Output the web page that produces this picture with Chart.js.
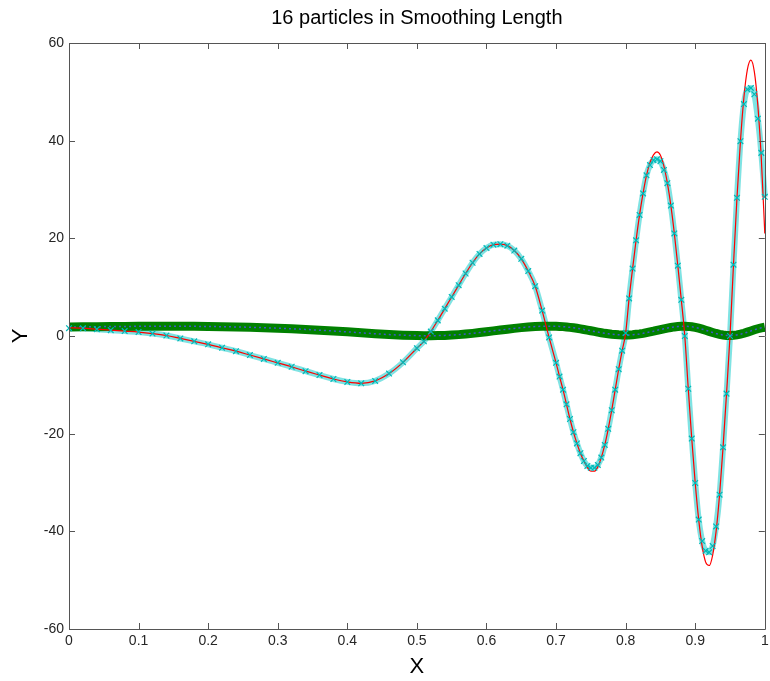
<!DOCTYPE html>
<html>
<head>
<meta charset="utf-8">
<script src="https://cdn.jsdelivr.net/npm/chart.js@4.4.1/dist/chart.umd.min.js"></script>
<style>
  body { margin: 0; background: #ffffff; }
  #wrap { width: 770px; height: 681px; }
</style>
</head>
<body>
<div id="wrap"><canvas id="sphChart" width="770" height="681"></canvas></div>
<script>
// Particle positions (x)
const xs = [
  0, 0.02, 0.04, 0.06, 0.08, 0.10, 0.12, 0.14, 0.16, 0.18,
  0.20, 0.22, 0.24, 0.26, 0.28, 0.30, 0.32, 0.34, 0.36, 0.38,
  0.40, 0.42, 0.44, 0.46, 0.48, 0.50,
  0.51, 0.52, 0.53, 0.54, 0.55, 0.56, 0.57, 0.58, 0.59, 0.60,
  0.61, 0.62, 0.63, 0.64, 0.65, 0.66, 0.67, 0.68, 0.69, 0.70,
  0.705, 0.71, 0.715, 0.72, 0.725, 0.73, 0.735, 0.74, 0.745, 0.75,
  0.755, 0.76, 0.765, 0.77, 0.775, 0.78, 0.785, 0.79, 0.795, 0.80,
  0.805, 0.81, 0.815, 0.82, 0.825, 0.83, 0.835, 0.84, 0.845, 0.85,
  0.855, 0.86, 0.865, 0.87, 0.875, 0.88, 0.885,
  0.89, 0.895, 0.90, 0.905, 0.91, 0.915, 0.92, 0.925, 0.93, 0.935,
  0.94, 0.945, 0.95,
  0.955, 0.96, 0.965, 0.97, 0.975, 0.98, 0.985, 0.99, 0.995, 1.0
];

// exact derivative (red line)
const redVals = [
  1.7, 1.6, 1.4, 1.2, 1.0, 0.8, 0.5, 0.1, -0.5, -1.1,
  -1.7, -2.4, -3.1, -3.9, -4.7, -5.5, -6.3, -7.2, -8.0, -8.8,
  -9.4, -9.7, -9.2, -7.7, -5.4, -2.5,
  -1.1, 0.9, 3.2, 5.6, 8.0, 10.4, 12.8, 15.0, 16.8, 18.0,
  18.7, 18.8, 18.5, 17.5, 15.8, 13.3, 10.2, 5.2, -0.3, -5.5,
  -8.3, -11.0, -14.0, -17.0, -19.7, -22.0, -24.0, -25.6, -26.9, -27.7,
  -27.7, -26.8, -24.9, -22.3, -19.0, -15.2, -11.0, -6.8, -3.0, 0.6,
  7.7, 13.8, 19.6, 24.8, 29.2, 32.9, 35.5, 37.1, 37.7, 37.0,
  34.8, 31.3, 26.7, 21.0, 14.4, 7.4, 0.0,
  -10.8, -21.0, -30.1, -37.6, -43.1, -46.3, -47.0, -44.9, -40.0, -32.5,
  -22.8, -11.8, 0.0,
  14.6, 28.3, 39.9, 48.9, 54.6, 56.5, 54.1, 47.2, 36.3, 21.0
];

// SPH approximation (cyan crosses)
const cyanVals = [
  1.6, 1.6, 1.4, 1.2, 1.0, 0.8, 0.5, 0.1, -0.5, -1.1,
  -1.7, -2.4, -3.1, -3.9, -4.7, -5.5, -6.3, -7.2, -8.0, -8.8,
  -9.4, -9.7, -9.2, -7.7, -5.4, -2.5,
  -1.1, 0.9, 3.2, 5.6, 8.0, 10.4, 12.8, 15.0, 16.8, 18.0,
  18.7, 18.8, 18.5, 17.5, 15.8, 13.3, 10.2, 5.2, -0.3, -5.5,
  -8.3, -11.0, -14.0, -17.0, -19.7, -22.0, -24.0, -25.6, -26.6, -27.0,
  -27.0, -26.4, -24.9, -22.3, -19.0, -15.2, -11.0, -6.8, -3.0, 0.6,
  7.7, 13.8, 19.6, 24.8, 29.2, 32.9, 35.0, 36.0, 36.2, 35.8,
  34.0, 31.3, 26.7, 21.0, 14.4, 7.4, 0.0,
  -10.8, -21.0, -30.1, -37.6, -42.0, -44.0, -44.3, -43.0, -39.0, -32.5,
  -22.8, -11.8, 0.0,
  14.6, 28.3, 39.9, 47.5, 50.5, 50.8, 49.5, 44.5, 37.5, 28.5
];

// function values (green circles)
const greenVals = [
  1.85, 1.88, 1.91, 1.94, 1.96, 1.98, 1.99, 2.0, 2.0, 1.98,
  1.95, 1.91, 1.86, 1.79, 1.70, 1.60, 1.48, 1.35, 1.19, 1.03,
  0.85, 0.65, 0.46, 0.29, 0.16, 0.08,
  0.06, 0.06, 0.08, 0.12, 0.19, 0.28, 0.40, 0.54, 0.70, 0.87,
  1.05, 1.23, 1.40, 1.56, 1.71, 1.84, 1.94, 2.0, 2.02, 2.0,
  1.97, 1.92, 1.85, 1.77, 1.68, 1.58, 1.46, 1.34, 1.21, 1.07,
  0.93, 0.80, 0.67, 0.55, 0.45, 0.36, 0.30, 0.25, 0.23, 0.22,
  0.22, 0.26, 0.34, 0.43, 0.55, 0.69, 0.84, 0.99, 1.16, 1.32,
  1.47, 1.62, 1.75, 1.86, 1.93, 1.98, 2.0,
  1.97, 1.89, 1.77, 1.60, 1.40, 1.18, 0.95, 0.73, 0.52, 0.34,
  0.21, 0.12, 0.10,
  0.13, 0.22, 0.37, 0.56, 0.79, 1.03, 1.27, 1.49, 1.67, 1.80
];

const xTicks = [0, 0.1, 0.2, 0.3, 0.4, 0.5, 0.6, 0.7, 0.8, 0.9, 1];
const yTicks = [-60, -40, -20, 0, 20, 40, 60];

function toPoints(vals) {
  return xs.map((x, i) => ({ x: x, y: vals[i] }));
}

// no extra room for the overhanging end labels
const noPadding = () => ({ left: 0, top: 0, right: 0, bottom: 0 });

// MATLAB style box with ticks pointing inwards
const boxTicks = {
  id: 'boxTicks',
  afterDatasetsDraw(chart) {
    const { ctx, chartArea: a, scales } = chart;
    const len = 6;
    ctx.save();
    ctx.strokeStyle = '#555555';
    ctx.lineWidth = 1;
    ctx.beginPath();
    ctx.rect(Math.round(a.left) + 0.5, Math.round(a.top) + 0.5,
             Math.round(a.right - a.left), Math.round(a.bottom - a.top));
    xTicks.forEach(v => {
      const px = Math.round(scales.x.getPixelForValue(v)) + 0.5;
      ctx.moveTo(px, a.bottom); ctx.lineTo(px, a.bottom - len);
      ctx.moveTo(px, a.top); ctx.lineTo(px, a.top + len);
    });
    yTicks.forEach(v => {
      const py = Math.round(scales.y.getPixelForValue(v)) + 0.5;
      ctx.moveTo(a.left, py); ctx.lineTo(a.left + len, py);
      ctx.moveTo(a.right, py); ctx.lineTo(a.right - len, py);
    });
    ctx.stroke();
    ctx.restore();
  }
};

const tickFont = { family: 'Liberation Sans, Arial, sans-serif', size: 14 };

new Chart(document.getElementById('sphChart').getContext('2d'), {
  type: 'line',
  data: {
    datasets: [
      {
        // cross markers drawn on top of everything
        label: 'SPH markers',
        data: toPoints(cyanVals),
        showLine: false,
        pointStyle: 'crossRot',
        pointRadius: 4,
        pointBorderColor: 'rgb(0,185,185)',
        pointBorderWidth: 1.2,
        clip: false,
        order: 0
      },
      {
        label: 'exact',
        data: toPoints(redVals),
        borderColor: '#ff0000',
        borderWidth: 1.2,
        pointRadius: 0,
        cubicInterpolationMode: 'monotone',
        clip: false,
        order: 1
      },
      {
        label: 'values dots',
        data: toPoints(greenVals),
        borderColor: 'rgba(70,80,230,0.85)',
        borderWidth: 1.5,
        borderDash: [2, 3],
        pointRadius: 0,
        clip: false,
        order: 2
      },
      {
        label: 'values',
        data: toPoints(greenVals),
        borderColor: '#008000',
        borderWidth: 9,
        pointRadius: 0,
        clip: false,
        order: 3
      },
      {
        // dense band of crosses
        label: 'SPH',
        data: toPoints(cyanVals),
        borderColor: 'rgba(0,200,200,0.5)',
        borderWidth: 6,
        pointRadius: 0,
        cubicInterpolationMode: 'monotone',
        clip: false,
        order: 4
      }
    ]
  },
  options: {
    responsive: false,
    animation: false,
    devicePixelRatio: 1,
    layout: { padding: { left: 0, right: -1, top: 0, bottom: 0 } },
    plugins: {
      legend: { display: false },
      tooltip: { enabled: false },
      title: {
        display: true,
        text: '16 particles in Smoothing Length',
        fullSize: false,
        color: '#000000',
        font: { family: 'Liberation Sans, Arial, sans-serif', size: 20, weight: 'normal' },
        padding: { top: 6, bottom: 13 }
      }
    },
    scales: {
      x: {
        type: 'linear',
        min: 0,
        max: 1,
        afterBuildTicks: s => { s.ticks = xTicks.map(v => ({ value: v })); },
        afterFit: s => {
          s.height = 52;
          s.paddingLeft = 0;
          s.paddingRight = 0;
          s.getPadding = noPadding;
        },
        grid: { display: false, drawTicks: false },
        border: { display: false },
        ticks: {
          color: '#262626',
          font: tickFont,
          padding: 4,
          maxRotation: 0,
          autoSkip: false,
          callback: v => String(v)
        },
        title: {
          display: true,
          text: 'X',
          color: '#000000',
          font: { family: 'Liberation Sans, Arial, sans-serif', size: 22 },
          padding: { top: 0, bottom: 1 }
        }
      },
      y: {
        type: 'linear',
        min: -60,
        max: 60,
        afterBuildTicks: s => { s.ticks = yTicks.map(v => ({ value: v })); },
        afterFit: s => {
          s.width = 69;
          s.paddingTop = 0;
          s.paddingBottom = 0;
          s.getPadding = noPadding;
        },
        grid: { display: false, drawTicks: false },
        border: { display: false },
        ticks: {
          color: '#262626',
          font: tickFont,
          padding: 5,
          autoSkip: false,
          callback: v => String(v)
        },
        title: {
          display: true,
          text: 'Y',
          color: '#000000',
          font: { family: 'Liberation Sans, Arial, sans-serif', size: 22 },
          padding: { top: 8, bottom: 0 }
        }
      }
    }
  },
  plugins: [boxTicks]
});
</script>
</body>
</html>
